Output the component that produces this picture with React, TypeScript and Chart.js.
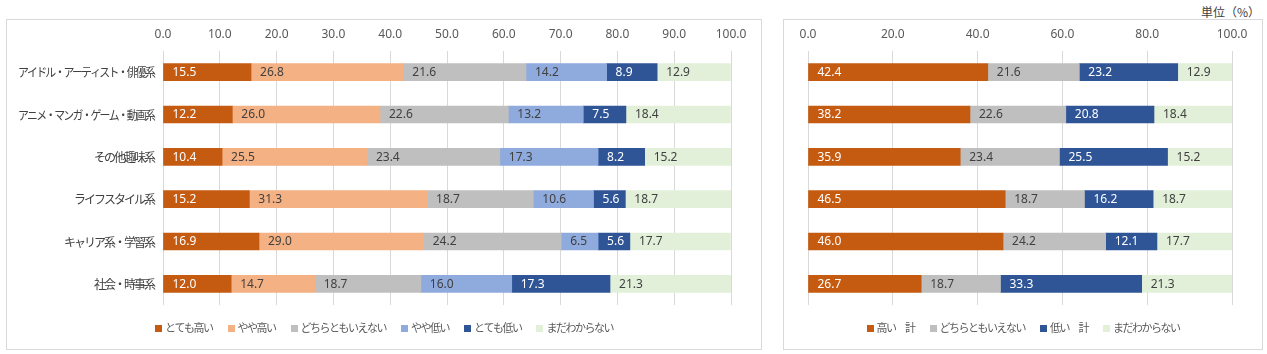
import React, { useEffect, useRef } from 'react';
import { Chart, registerables } from 'chart.js';

Chart.register(...registerables);

// ---- data ----
const categories = [
  'アイドル・アーティスト・俳優系',
  'アニメ・マンガ・ゲーム・動画系',
  'その他趣味系',
  'ライフスタイル系',
  'キャリア系・学習系',
  '社会・時事系',
];

const detailNames = ['とても高い', 'やや高い', 'どちらともいえない', 'やや低い', 'とても低い', 'まだわからない'];
const veryHigh = [15.5, 12.2, 10.4, 15.2, 16.9, 12.0];
const somewhatHigh = [26.8, 26.0, 25.5, 31.3, 29.0, 14.7];
const neutral = [21.6, 22.6, 23.4, 18.7, 24.2, 18.7];
const somewhatLow = [14.2, 13.2, 17.3, 10.6, 6.5, 16.0];
const veryLow = [8.9, 7.5, 8.2, 5.6, 5.6, 17.3];
const notYet = [12.9, 18.4, 15.2, 18.7, 17.7, 21.3];

const summaryNames = ['高い　計', 'どちらともいえない', '低い　計', 'まだわからない'];
const highTotal = [42.4, 38.2, 35.9, 46.5, 46.0, 26.7];
const summaryNeutral = [21.6, 22.6, 23.4, 18.7, 24.2, 18.7];
const lowTotal = [23.2, 20.8, 25.5, 16.2, 12.1, 33.3];
const summaryNotYet = [12.9, 18.4, 15.2, 18.7, 17.7, 21.3];

const leftTickStep = 10;
const rightTickStep = 20;
const axisMin = 0;
const axisMax = 100;
const unitLabel = '単位（%）';

// ---- styles ----
const C_VERY_HIGH = '#C55A11';
const C_HIGH = '#F4B183';
const C_NEUTRAL = '#BFBFBF';
const C_LOW = '#8FAADC';
const C_VERY_LOW = '#2F5597';
const C_UNKNOWN = '#E2F0D9';
const TXT_DARK = '#404040';
const TXT_LIGHT = '#FFFFFF';

const JP_FONT = '"Noto Sans CJK JP", "Noto Sans", sans-serif';
const NUM_FONT = '"Noto Sans", "DejaVu Sans", sans-serif';

const valueLabels = {
  id: 'valueLabels',
  afterDatasetsDraw(chart: any) {
    const ctx = chart.ctx;
    ctx.save();
    ctx.font = `12px ${NUM_FONT}`;
    ctx.textBaseline = 'middle';
    ctx.textAlign = 'left';
    chart.data.datasets.forEach((ds: any, i: number) => {
      const meta = chart.getDatasetMeta(i);
      meta.data.forEach((el: any, j: number) => {
        const v = ds.data[j];
        const p = el.getProps(['x', 'base', 'y'], true);
        ctx.fillStyle = ds.valueColor || TXT_DARK;
        ctx.fillText(Number(v).toFixed(1), Math.min(p.x, p.base) + 9, p.y + 0.5);
      });
    });
    ctx.restore();
  },
};

const categoryLabels = {
  id: 'categoryLabels',
  afterDraw(chart: any, _args: any, opts: any) {
    if (!opts || !opts.show) return;
    const ctx = chart.ctx;
    const yScale = chart.scales.y;
    ctx.save();
    ctx.font = `12px ${JP_FONT}`;
    ctx.fillStyle = TXT_DARK;
    ctx.textAlign = 'right';
    ctx.textBaseline = 'middle';
    (ctx as any).letterSpacing = '-2px';
    categories.forEach((c, i) => {
      ctx.fillText(c, chart.chartArea.left - 9, yScale.getPixelForValue(i) + 0.5, 136);
    });
    ctx.restore();
  },
};

const customLegend = {
  id: 'customLegend',
  afterDraw(chart: any) {
    const ctx = chart.ctx;
    ctx.save();
    ctx.font = `11px ${JP_FONT}`;
    (ctx as any).letterSpacing = '-1.5px';
    ctx.textAlign = 'left';
    ctx.textBaseline = 'middle';
    const items = chart.data.datasets.map((ds: any) => ({ text: ds.label, color: ds.backgroundColor }));
    const box = 7;
    const gap = 3;
    const itemGap = 15;
    const widths = items.map((it: any) => box + gap + ctx.measureText(it.text).width);
    const total = widths.reduce((a: number, b: number) => a + b, 0) + itemGap * (items.length - 1);
    let x = (chart.width - total) / 2;
    const y = chart.chartArea.bottom + 23;
    items.forEach((it: any, i: number) => {
      ctx.fillStyle = it.color;
      ctx.fillRect(Math.round(x), Math.round(y - box / 2), box, box);
      ctx.fillStyle = '#595959';
      ctx.fillText(it.text, x + box + gap, y);
      x += widths[i] + itemGap;
    });
    ctx.restore();
  },
};

function makeConfig(datasets: any[], step: number, leftWidth: number, showCats: boolean): any {
  return {
    type: 'bar',
    data: { labels: categories, datasets },
    plugins: [valueLabels, categoryLabels, customLegend],
    options: {
      indexAxis: 'y',
      responsive: false,
      animation: false,
      layout: { padding: { left: 0, right: 0, top: 0, bottom: 44 } },
      datasets: { bar: { barThickness: 17, borderWidth: 0 } },
      scales: {
        x: {
          type: 'linear',
          position: 'top',
          stacked: true,
          min: axisMin,
          max: axisMax,
          ticks: {
            stepSize: step,
            padding: 9,
            color: '#595959',
            font: { size: 12, family: NUM_FONT },
            callback: (v: any) => Number(v).toFixed(1),
          },
          grid: { color: '#D9D9D9', drawTicks: false, lineWidth: 1 },
          border: { display: false },
          afterFit: (s: any) => {
            s.height = 31;
          },
        },
        y: {
          type: 'category',
          stacked: true,
          display: true,
          ticks: { display: false },
          grid: { display: false },
          border: { display: false },
          afterFit: (s: any) => {
            s.width = leftWidth;
          },
        },
        y2: {
          type: 'linear',
          position: 'right',
          display: true,
          ticks: { display: false },
          grid: { display: false },
          border: { display: false },
          afterFit: (s: any) => {
            s.width = 30;
          },
        },
      },
      plugins: {
        legend: { display: false },
        tooltip: { enabled: false },
        categoryLabels: { show: showCats },
      },
    },
  };
}

export default function App() {
  const leftRef = useRef<HTMLCanvasElement | null>(null);
  const rightRef = useRef<HTMLCanvasElement | null>(null);

  useEffect(() => {
    const mk = (label: string, data: number[], color: string, valueColor: string) => ({
      label,
      data,
      backgroundColor: color,
      valueColor,
    });
    const leftSets = [
      mk(detailNames[0], veryHigh, C_VERY_HIGH, TXT_LIGHT),
      mk(detailNames[1], somewhatHigh, C_HIGH, TXT_DARK),
      mk(detailNames[2], neutral, C_NEUTRAL, TXT_DARK),
      mk(detailNames[3], somewhatLow, C_LOW, TXT_DARK),
      mk(detailNames[4], veryLow, C_VERY_LOW, TXT_LIGHT),
      mk(detailNames[5], notYet, C_UNKNOWN, TXT_DARK),
    ];
    const rightSets = [
      mk(summaryNames[0], highTotal, C_VERY_HIGH, TXT_LIGHT),
      mk(summaryNames[1], summaryNeutral, C_NEUTRAL, TXT_DARK),
      mk(summaryNames[2], lowTotal, C_VERY_LOW, TXT_LIGHT),
      mk(summaryNames[3], summaryNotYet, C_UNKNOWN, TXT_DARK),
    ];
    const left = new Chart(leftRef.current as HTMLCanvasElement, makeConfig(leftSets, leftTickStep, 156, true));
    const right = new Chart(rightRef.current as HTMLCanvasElement, makeConfig(rightSets, rightTickStep, 24, false));
    return () => {
      left.destroy();
      right.destroy();
    };
  }, []);

  const boxStyle: React.CSSProperties = {
    position: 'absolute',
    top: 19,
    height: 331,
    border: '1px solid #D9D9D9',
    boxSizing: 'border-box',
    background: '#FFFFFF',
  };

  return (
    <div style={{ position: 'absolute', left: 0, top: 0, width: 1267, height: 354, background: '#FFFFFF', overflow: 'hidden' }}>
      <div style={{ ...boxStyle, left: 6, width: 756 }}>
        <canvas ref={leftRef} width={754} height={329} style={{ display: 'block', width: 754, height: 329 }} />
      </div>
      <div style={{ ...boxStyle, left: 783, width: 480 }}>
        <canvas ref={rightRef} width={478} height={329} style={{ display: 'block', width: 478, height: 329 }} />
      </div>
      <div
        style={{
          position: 'absolute',
          right: 7,
          top: 4,
          fontSize: 12,
          lineHeight: '16px',
          color: TXT_DARK,
          fontFamily: JP_FONT,
          whiteSpace: 'nowrap',
        }}
      >
        {unitLabel}
      </div>
    </div>
  );
}
